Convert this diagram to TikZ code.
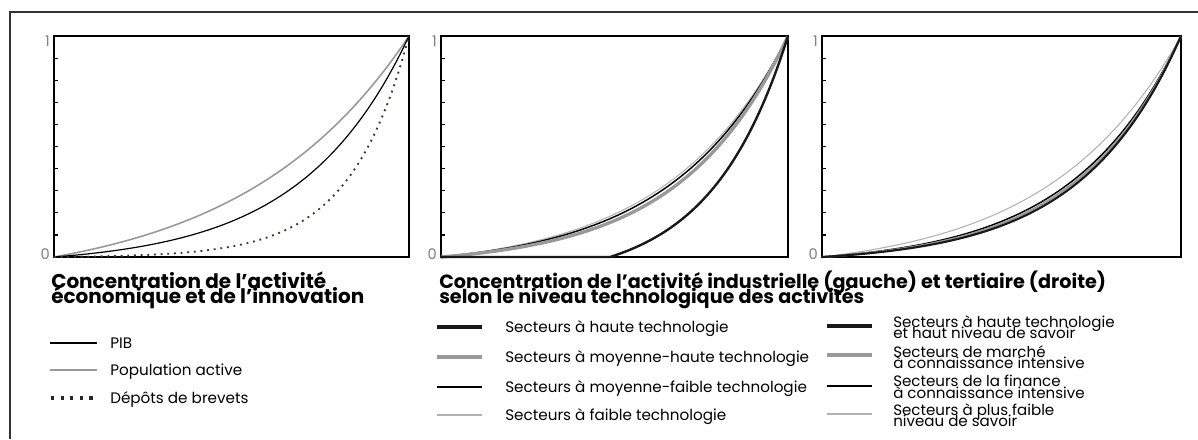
\documentclass[tikz,border=0pt]{standalone}
\usepackage{fontspec}
\setmainfont{Poppins}

% one Lorenz-type curve: style, left edge, right edge, curvature
\newcommand{\lorenzplot}[4]{%
  \draw[#1] plot[domain=0:1, samples=70, smooth]
    ({#2+\x*(#3-#2)}, {257-221*((exp(#4*\x)-1)/(exp(#4)-1))});}
\newcommand{\tightlines}{\lineskiplimit=-20pt\relax}

\begin{document}
\begin{tikzpicture}[
    x=0.75pt, y=-0.75pt,
    panel/.style={draw=black, line width=1.1pt},
    tick/.style={line width=0.9pt},
    axlabel/.style={font=\fontsize{11}{11}\selectfont, text=black!50, inner sep=0pt, anchor=east},
    title/.style={font=\fontsize{15}{10.9}\selectfont\bfseries\tightlines, align=left, anchor=base west, inner sep=0pt},
    entry/.style={font=\fontsize{11.4}{11.4}\selectfont, anchor=base west, inner sep=0pt},
    twoline/.style={font=\fontsize{11.3}{8.7}\selectfont\tightlines, align=left, anchor=west, inner sep=0pt},
    pib/.style={line width=0.9pt, black},
    popu/.style={line width=1.2pt, black!40},
    brevet/.style={line width=2.4pt, black!85, dash pattern=on 2.4pt off 4.8pt},
    hautetech/.style={line width=3.1pt, black!90},
    moyhaute/.style={line width=2.5pt, black!40},
    moyfaible/.style={line width=1.1pt, black},
    faible/.style={line width=0.8pt, black!30}
]
    \useasboundingbox (0,0) rectangle (1198,439);

    % Outer frame (open at right and bottom)
    \draw[line width=1.1pt, black!80] (10,439) -- (10,12) -- (1198,12);

    % Panels with ticks and 0/1 labels
    \foreach \L/\R/\n in {54/409/a, 441/788/b, 822/1181/c} {
        \draw[panel] (\L,36) rectangle (\R,257);
        \foreach \i in {1,...,9}
            \draw[tick] (\L,{36+22.1*\i}) -- ++(3.5,0);
        \node[axlabel] (one-\n) at (\L-4,41) {1};
        \node[axlabel] (zero-\n) at (\L-4,254) {0};
    }

    % Panel 1 curves
    \lorenzplot{popu}{54}{409}{2.12}
    \lorenzplot{pib}{54}{409}{3.3}
    \lorenzplot{brevet, line width=1.4pt, black!75!olive, dash pattern=on 1.4pt off 3.6pt}{54}{409}{6}

    % Panel 2 curves
    \lorenzplot{faible}{441}{788}{2.85}
    \lorenzplot{moyfaible}{441}{788}{3.0}
    \lorenzplot{moyhaute}{441}{788}{3.25}
    \draw[hautetech, line width=1.8pt] (441,257) -- (610,257)
        -- plot[domain=0:1, samples=50, smooth]
        ({610+\x*178}, {257-221*((exp(2.3*\x)-1)/(exp(2.3)-1))});

    % Panel 3 curves
    \lorenzplot{faible}{822}{1181}{2.7}
    \lorenzplot{moyfaible}{822}{1181}{3.3}
    \lorenzplot{moyhaute, line width=1.6pt}{822}{1181}{3.45}
    \lorenzplot{hautetech, line width=1.6pt}{822}{1181}{3.6}

    % Titles
    \node[title] (title-a) at (51,303) {Concentration de l'activité\\économique et de l'innovation};
    \node[title, font=\fontsize{14.4}{10.9}\selectfont\bfseries\tightlines] (title-b) at (439,303) {Concentration de l'activité industrielle (gauche) et tertiaire (droite)\\selon le niveau technologique des activités};

    % Legend, panel 1
    \draw[pib] (50,343) -- ++(47,0);
    \node[entry] (leg-pib) at (110,348) {PIB};
    \draw[popu] (50,370) -- ++(47,0);
    \node[entry] (leg-popu) at (110,375) {Population active};
    \draw[brevet] (51,398) -- ++(46,0);
    \node[entry] (leg-brevet) at (110,403) {Dépôts de brevets};

    % Legend, industry
    \draw[hautetech] (437,327) -- ++(45,0);
    \node[entry] (leg-ht) at (505,332) {Secteurs à haute technologie};
    \draw[moyhaute] (437,357) -- ++(45,0);
    \node[entry] (leg-mh) at (505,362) {Secteurs à moyenne-haute technologie};
    \draw[moyfaible] (437,387) -- ++(45,0);
    \node[entry] (leg-mf) at (505,392) {Secteurs à moyenne-faible technologie};
    \draw[faible] (437,415) -- ++(45,0);
    \node[entry] (leg-fa) at (505,420) {Secteurs à faible technologie};

    % Legend, services
    \draw[hautetech] (827,326) -- ++(45,0);
    \node[twoline] (leg-hs) at (893,327) {Secteurs à haute technologie\\et haut niveau de savoir};
    \draw[moyhaute] (827,355) -- ++(45,0);
    \node[twoline] (leg-ma) at (893,357) {Secteurs de marché\\à connaissance intensive};
    \draw[moyfaible] (827,386) -- ++(45,0);
    \node[twoline] (leg-fi) at (893,387) {Secteurs de la finance\\à connaissance intensive};
    \draw[faible] (827,414) -- ++(45,0);
    \node[twoline] (leg-ps) at (893,415) {Secteurs à plus faible\\niveau de savoir};
\end{tikzpicture}
\end{document}
